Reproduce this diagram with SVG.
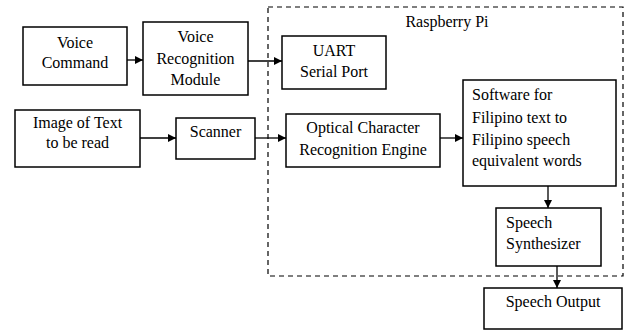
<svg xmlns="http://www.w3.org/2000/svg" width="626" height="331" viewBox="0 0 626 331">
<style>
.box{fill:#fff;stroke:#000;stroke-width:1.5}
text{font-family:'Liberation Serif','DejaVu Serif',serif;font-size:16px;fill:#000}
.c{text-anchor:middle}
.conn{stroke:#000;stroke-width:1.3;fill:none;marker-end:url(#ah)}
</style>
<defs>
<marker id="ah" viewBox="0 0 10 10" refX="10" refY="5" markerWidth="8" markerHeight="8" markerUnits="userSpaceOnUse" orient="auto">
<path d="M0,0 L10,5 L0,10 z" fill="#000"/>
</marker>
</defs>
<rect width="626" height="331" fill="#fff"/>
<g id="raspberry-pi">
<rect x="268" y="7" width="355" height="269" fill="none" stroke="#000" stroke-width="1.2" stroke-dasharray="5,4"/>
<text x="447" y="27" class="c">Raspberry Pi</text>
</g>
<g id="voice-command">
<rect class="box" x="23" y="27" width="104" height="58"/>
<text class="c" x="75" y="48">Voice</text>
<text class="c" x="75" y="68">Command</text>
</g>
<g id="voice-recognition">
<rect class="box" x="143" y="22" width="105" height="73"/>
<text class="c" x="195.5" y="42">Voice</text>
<text class="c" x="195.5" y="64">Recognition</text>
<text class="c" x="195.5" y="85">Module</text>
</g>
<g id="uart">
<rect class="box" x="282" y="36" width="104" height="53"/>
<text class="c" x="334" y="56">UART</text>
<text class="c" x="334" y="77">Serial Port</text>
</g>
<g id="image-text">
<rect class="box" x="15" y="110" width="125" height="57"/>
<text class="c" x="77.5" y="128">Image of Text</text>
<text class="c" x="77.5" y="148">to be read</text>
</g>
<g id="scanner">
<rect class="box" x="176" y="118" width="79" height="41"/>
<text class="c" x="215.5" y="137">Scanner</text>
</g>
<g id="ocr">
<rect class="box" x="286" y="114" width="154" height="53"/>
<text class="c" x="363" y="133">Optical Character</text>
<text class="c" x="363" y="155">Recognition Engine</text>
</g>
<g id="software">
<rect class="box" x="463" y="80" width="153" height="106"/>
<text x="472" y="100">Software for</text>
<text x="472" y="123">Filipino text to</text>
<text x="472" y="145">Filipino speech</text>
<text x="472" y="166">equivalent words</text>
</g>
<g id="synthesizer">
<rect class="box" x="496" y="208" width="105" height="58"/>
<text x="506" y="228">Speech</text>
<text x="506" y="249">Synthesizer</text>
</g>
<g id="speech-output">
<rect class="box" x="484" y="288" width="138" height="41"/>
<text class="c" x="553" y="307">Speech Output</text>
</g>
<g id="connectors">
<line class="conn" x1="127" y1="60" x2="143" y2="60"/>
<line class="conn" x1="248" y1="61" x2="282" y2="61"/>
<line class="conn" x1="140" y1="138" x2="176" y2="138"/>
<line class="conn" x1="255" y1="138" x2="286" y2="138"/>
<line class="conn" x1="440" y1="138" x2="463" y2="138"/>
<line class="conn" x1="548" y1="186" x2="548" y2="208"/>
<line class="conn" x1="557" y1="266" x2="557" y2="288"/>
</g>
</svg>
